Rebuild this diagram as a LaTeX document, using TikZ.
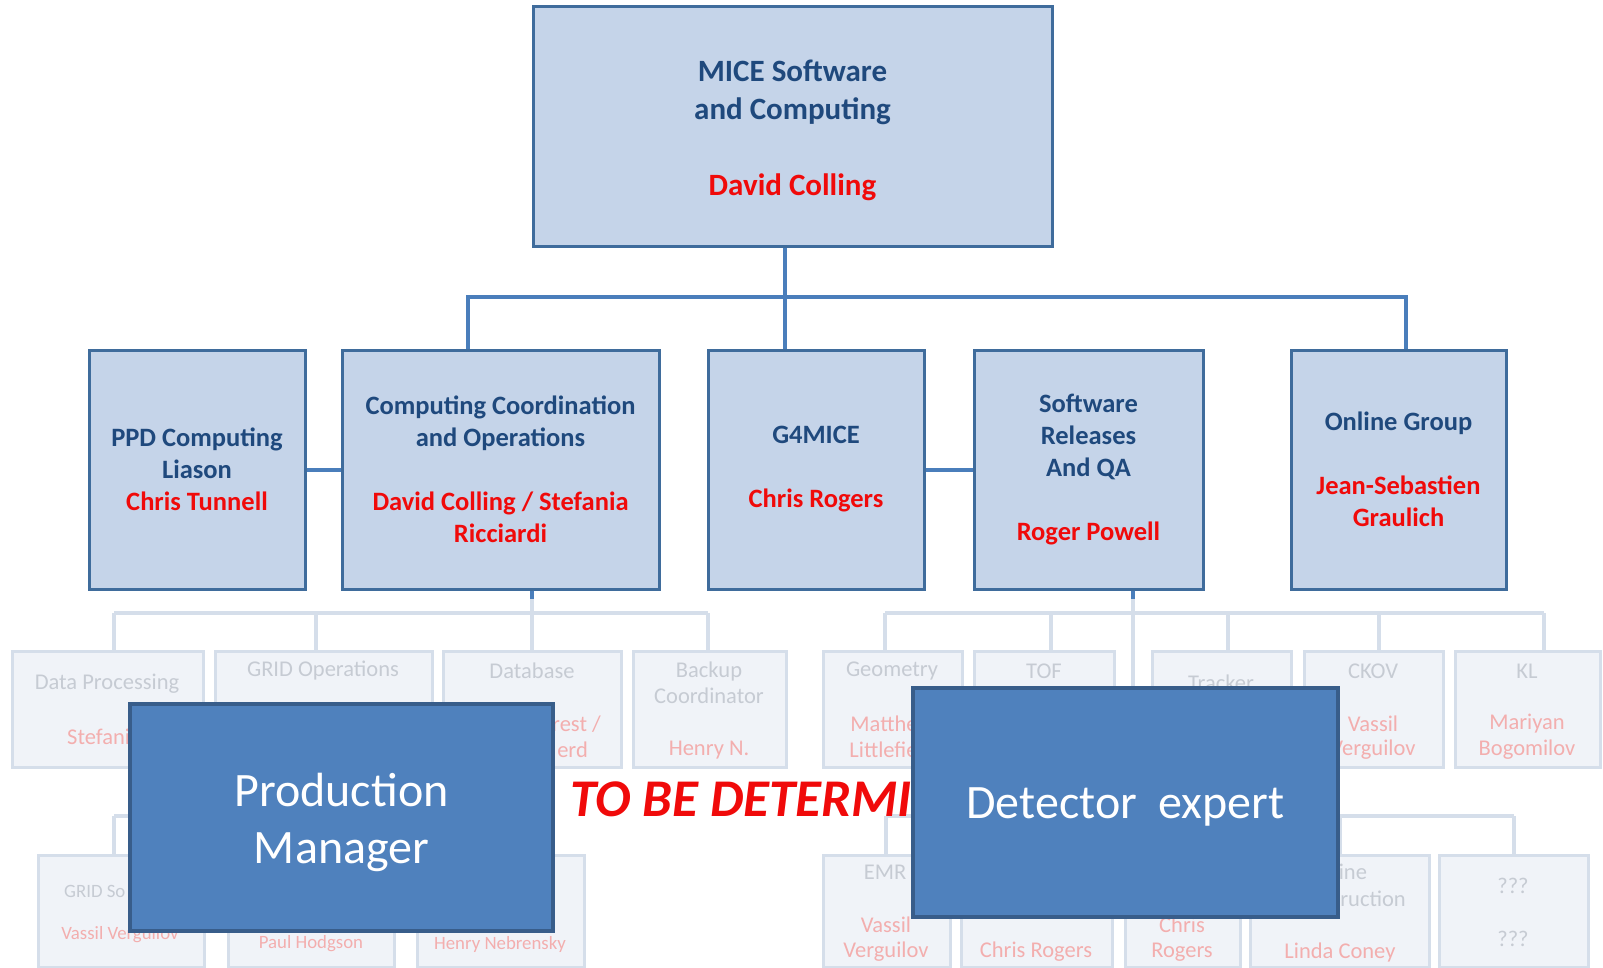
\documentclass[tikz,border=0pt]{standalone}
\usepackage{fontspec}
\setmainfont{Carlito}
\usetikzlibrary{calc}
\definecolor{dkblue}{HTML}{1F497D}
\definecolor{boxfill}{HTML}{C5D4E9}
\definecolor{boxline}{HTML}{3F6C9C}
\definecolor{connc}{HTML}{4A7EBB}
\definecolor{bigfill}{HTML}{4F81BD}
\definecolor{bigline}{HTML}{385D8A}
\definecolor{ffill}{HTML}{F0F3F8}
\definecolor{fline}{HTML}{D5DEEA}
\definecolor{fgray}{HTML}{C6CBD3}
\definecolor{fred}{HTML}{F3AEAE}
\definecolor{nred}{HTML}{F00A0A}
\newcommand{\rn}[1]{\textcolor{nred}{#1}}
\begin{document}
\begin{tikzpicture}[x=1pt,y=-1pt,
  mainbox/.style={draw=boxline, line width=3pt, fill=boxfill, inner sep=0pt, text=dkblue,
    font=\fontsize{26.5}{32}\selectfont\bfseries, align=center},
  topbox/.style={draw=boxline, line width=3pt, fill=boxfill, inner sep=0pt},
  toptext/.style={inner sep=0pt, text=dkblue, align=center, font=\fontsize{31}{38}\selectfont\bfseries},
  bigbox/.style={draw=bigline, line width=4pt, fill=bigfill, inner sep=0pt},
  bigtext/.style={inner sep=0pt, text=white, font=\fontsize{48}{57}\selectfont, align=center},
  fbox/.style={draw=fline, line width=3pt, fill=ffill, inner sep=0pt},
  conn/.style={draw=connc, line width=4pt},
  fconn/.style={draw=fline, line width=4pt},
  ft/.style={inner sep=0pt, text=fgray, font=\fontsize{22.5}{26}\selectfont},
  fn/.style={inner sep=0pt, text=fred, font=\fontsize{22.5}{26}\selectfont},
  fts/.style={ft, font=\fontsize{18.8}{22}\selectfont},
  fns/.style={fn, font=\fontsize{18.8}{22}\selectfont},
  tbd/.style={inner sep=0pt, text=nred, font=\fontsize{53}{60}\selectfont\bfseries\itshape}
]
\useasboundingbox (0,0) rectangle (1603,968);
\fill[white] (0,0) rectangle (1603,968);

% ---------- faded row 1 boxes ----------
\node[fbox, minimum width=191, minimum height=116] (dp) at (107.5,709) {};
\node[fbox, minimum width=217, minimum height=116] (go) at (323.5,709) {};
\node[fbox, minimum width=178, minimum height=116] (db) at (532,709) {};
\node[fbox, minimum width=153, minimum height=116] (bk) at (709.5,709) {};
\node[fbox, minimum width=139, minimum height=116] (geo) at (892.5,709) {};
\node[fbox, minimum width=140, minimum height=116] (tof) at (1044,709) {};
\node[fbox, minimum width=139, minimum height=116] (trk) at (1221.5,709) {};
\node[fbox, minimum width=139, minimum height=116] (ckov) at (1373.5,709) {};
\node[fbox, minimum width=145, minimum height=116] (kl) at (1527.5,709) {};

% ---------- faded row 2 boxes ----------
\node[fbox, minimum width=166, minimum height=112] (gs) at (121,911) {};
\node[fbox, minimum width=166, minimum height=112] (ph) at (311,911) {};
\node[fbox, minimum width=167, minimum height=112] (hn) at (500.5,911) {};
\node[fbox, minimum width=127, minimum height=112] (emr) at (886.5,911) {};
\node[fbox, minimum width=151, minimum height=112] (cra) at (1036.5,911) {};
\node[fbox, minimum width=115, minimum height=112] (crb) at (1182.5,911) {};
\node[fbox, minimum width=179, minimum height=112] (lc) at (1339.5,911) {};
\node[fbox, minimum width=149, minimum height=112] (qq) at (1513.5,911) {};

% ---------- faded connectors ----------
\coordinate (lb1) at (114,613);
\coordinate (lb4) at (708,613);
\coordinate (ccdrop) at (532,613);
\draw[fconn] (lb1) -- (lb4);
\foreach \x/\b in {114/dp, 316/go, 532/db, 708/bk}{
  \coordinate (t\b) at (\x,613);
  \draw[fconn] (t\b) -- (\b.north -| t\b);
}
\coordinate (rb1) at (885,613);
\coordinate (rb5) at (1544,613);
\draw[fconn] (rb1) -- (rb5);
\foreach \x/\b in {885/geo, 1051/tof, 1228/trk, 1379/ckov, 1544/kl}{
  \coordinate (t\b) at (\x,613);
  \draw[fconn] (t\b) -- (\b.north -| t\b);
}
\coordinate (lc1) at (114,816);
\coordinate (lc3) at (500,816);
\draw[fconn] (lc1) -- (lc3);
\foreach \x/\b in {114/gs, 311/ph, 500/hn}{
  \coordinate (t\b) at (\x,816);
  \draw[fconn] (t\b) -- (\b.north -| t\b);
}
\coordinate (rc1) at (886,816);
\coordinate (rc5) at (1514,816);
\coordinate (srdrop) at (1133,816);
\draw[fconn] (rc1) -- (rc5);
\foreach \x/\b in {886/emr, 1036/cra, 1182/crb, 1340/lc, 1514/qq}{
  \coordinate (t\b) at (\x,816);
  \draw[fconn] (t\b) -- (\b.north -| t\b);
}

% ---------- faded texts ----------
\node[ft] at (107,684) {Data Processing};
\node[fn] at (104,737) {Stefania};
\node[ft] at (323,671) {GRID Operations};
\node[ft] at (532,671) {Database};
\node[fn, anchor=east] at (601,724) {rest /};
\node[fn, anchor=east] at (588,750) {erd};
\node[ft] at (709,671) {Backup};
\node[ft] at (709,696) {Coordinator};
\node[fn] at (709,750) {Henry N.};
\node[ft] at (892,671) {Geometry};
\node[fn] at (892,724) {Matthew};
\node[fn] at (892,750) {Littlefield};
\node[ft] at (1044,671) {TOF};
\node[ft] at (1221,683) {Tracker};
\node[ft] at (1373,671) {CKOV};
\node[fn] at (1373,724) {Vassil};
\node[fn] at (1373,750) {Verguilov};
\node[ft] at (1527,671) {KL};
\node[fn] at (1527,724) {Mariyan};
\node[fn] at (1527,750) {Bogomilov};

\node[fts, anchor=west] at (64,891) {GRID So};
\node[fns] at (120,935) {Vassil Verguilov};
\node[fns] at (311,944) {Paul Hodgson};
\node[fns] at (500,944) {Henry Nebrensky};
\node[ft] at (885,872) {EMR};
\node[fn] at (886,925) {Vassil};
\node[fn] at (886,952) {Verguilov};
\node[fn] at (1036,952) {Chris Rogers};
\node[fn] at (1182,925) {Chris};
\node[fn] at (1182,952) {Rogers};
\node[ft] at (1337,872) {Online};
\node[ft] at (1337,899) {Reconstruction};
\node[fn] at (1340,952) {Linda Coney};
\node[ft] at (1513,886) {???};
\node[ft] at (1513,939) {???};

% ---------- main boxes ----------
\node[topbox, minimum width=519, minimum height=240] (top) at (792.5,127) {};
\node[toptext] (toplabel) at (792.5,130)
  {MICE Software\\and Computing\\[38pt]\rn{David Colling}};
\node[mainbox, minimum width=216, minimum height=239] (ppd) at (197,469.5)
  {PPD Computing\\Liason\\\rn{Chris Tunnell}};
\node[mainbox, minimum width=317, minimum height=239] (cc) at (500.5,469.5)
  {Computing Coordination\\and Operations\\[32pt]\rn{David Colling / Stefania}\\\rn{Ricciardi}};
\node[mainbox, minimum width=216, minimum height=239] (g4) at (816,469.5)
  {G4MICE\\[32pt]\rn{Chris Rogers}};
\node[mainbox, minimum width=229, minimum height=239] (sr) at (1088.5,469.5)
  {Software\\Releases\\And QA\\[32pt]\rn{Roger Powell}};
\node[mainbox, minimum width=215, minimum height=239] (og) at (1398.5,469.5)
  {Online Group\\[32pt]\rn{Jean-Sebastien}\\\rn{Graulich}};

% ---------- main connectors ----------
\coordinate (xa) at (468,297);
\coordinate (xb) at (1406,297);
\coordinate (xc) at (785,297);
\draw[conn] (cc.north -| xa) -- (xa) -- (xb) -- (og.north -| xb);
\draw[conn] (top.south -| xc) -- (g4.north -| xc);
\draw[conn] (ppd) -- (cc);
\draw[conn] (g4) -- (sr);
% drops to faded level
\draw[fconn] (cc.south -| ccdrop) -- (ccdrop);
\draw[conn] (cc.south -| ccdrop) -- ++(0,8);
\draw[fconn] (sr.south -| srdrop) -- (srdrop);
\draw[conn] (sr.south -| srdrop) -- ++(0,8);

% ---------- TO BE DETERMINED ----------
\node[tbd, anchor=west] (tbdtext) at (570,799) {TO BE DETERMINED};

% ---------- overlay boxes ----------
\node[bigbox, minimum width=423, minimum height=227] (pm) at (341.5,817.5) {};
\node[bigtext] (pmlabel) at (341.5,822) {Production\\Manager};
\node[bigbox, minimum width=425, minimum height=229] (de) at (1125.5,802.5) {};
\node[bigtext] (delabel) at (1125.5,807) {Detector\ \ expert};
\end{tikzpicture}
\end{document}
